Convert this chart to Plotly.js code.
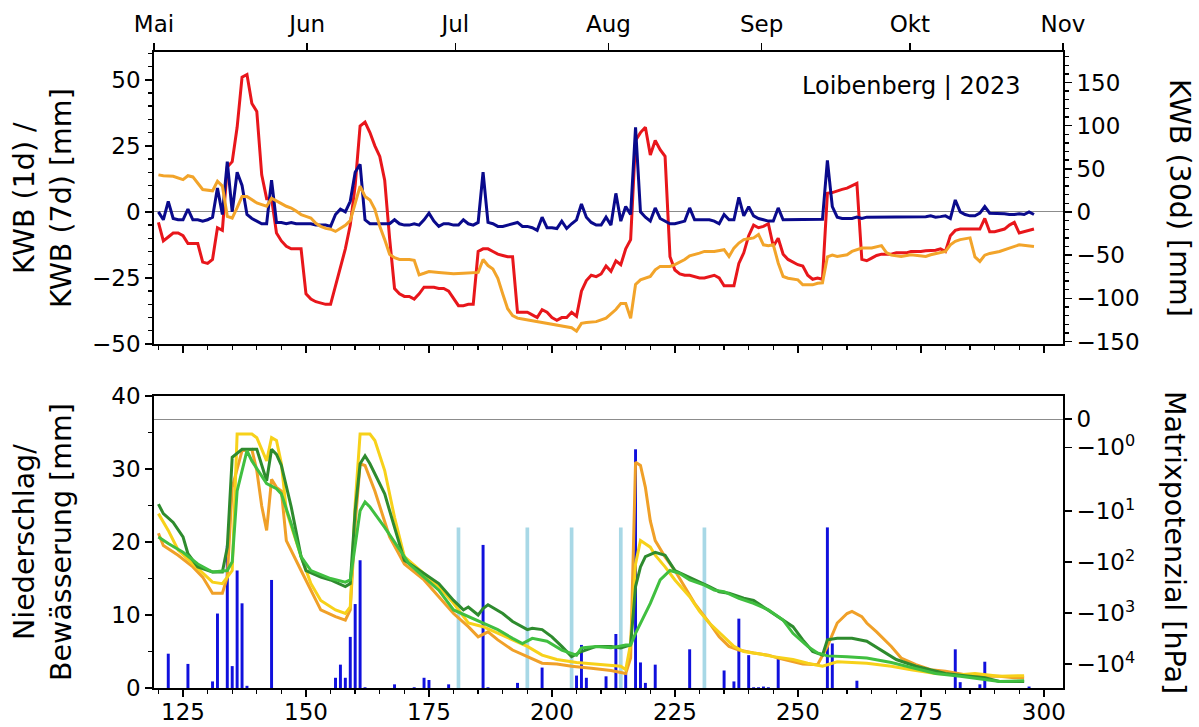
<!DOCTYPE html>
<html><head><meta charset="utf-8">
<script src="https://cdn.plot.ly/plotly-3.0.1.min.js"></script>
<style>html,body{margin:0;padding:0;background:#fff;}#chart{width:1199px;height:727px;}</style>
</head><body><div id="chart"></div>
<script>
// ---------- DATA ----------
const firstDay = 120;
// KWB (1d) daily, days 120..298
const kwb1d = [0,-3,4,-2.5,-3,-3,1,-3,-3,-3.5,-3,-2,9,-1,19,0,15,10,-1,-2.5,
-3.5,-4.5,-4.5,12,-4,-4,-4.5,-4,-4.5,-4.5,-4.5,-4.5,-5,-5,-5,-5.5,-1,1,0,4,
15,18,-3,-4.5,-4.5,-4.5,-4.5,-4.5,-3,-4.5,-5,-5,-4.5,-5,-3,-0.5,-3.5,-5.5,-4.5,-4.5,
-5,-5,-3,-4.5,-5,-4,15,-4,-4.5,-5.5,-5.5,-5,-4.5,-4,-5.5,-5.5,-6,-7,-2,-6,
-6,-6.3,-3.5,-6.3,-4.5,-3,3,-2,-4,-5,-5,-2,-5,7,-3.5,2,-1,32,0,-2,
-3.5,1.5,-2.5,-3.5,-4.5,-4.5,-4,-3.5,1.5,-3,-3,-3,-3,-3.5,-4.5,-1,-3,-3,5.5,-1.5,
2,-1.5,-2.5,-3,-3.5,-3.5,1.5,-3,-3,-3,-3,-3,-2.8,-3,-3,-2.8,19.5,2,-2,-2.5,
-2.5,-2.5,-2,-2.5,-2,-2,-2,-1.8,-2,-1.8,-2,-2,-1.8,-1.8,-1.8,-1.8,-1.8,-1.5,-2,-1.8,
-1.5,-2.5,4.5,0,-1,-1.5,-1.5,-0.5,2,-0.5,-0.5,-0.7,-0.7,-1,-1,-0.7,-1,0,-1];
// KWB (7d) daily, days 120..298
const kwb7d = [-4,-11,-9.5,-8,-8,-9,-12,-12,-12,-19,-19.5,-18,-6,-7,17,19,32,51,52,41,
38,14,5,5,-8,-11,-13,-14,-14,-14,-31,-33,-34,-34.5,-35,-35,-28,-21,-14,-5,
10,32.5,34,30,25,21,12,-10,-29,-31,-32,-32,-33,-31,-28.5,-28.5,-28.5,-29,-29,-30,
-33,-35.5,-35.5,-35,-35,-15,-14,-14,-15,-16,-16.5,-17,-17,-38,-38,-38,-39,-40,-37,-38,
-40,-41,-40,-40,-38,-39.5,-30,-26,-24,-24.5,-23.5,-20.5,-22.5,-18.5,-20,-14,-10.5,27,30,32,
21.5,27,23.5,21,-17,-22,-23.5,-24,-24,-24.5,-25,-25,-24.5,-24,-25,-28,-28,-28,-19.5,-15.5,
-9,-5,-6,-5.5,-4.5,-13,-10,-16,-18,-19,-20,-20.5,-24,-25.5,-25,-25.5,7,7.3,8,8.5,
9,10,10.8,-18,-18.5,-17.5,-16.5,-16,-16,-16,-15.5,-15.5,-15.5,-15,-15,-15,-14.7,-14.7,-14.5,-14,
-15,-9,-7,-6.5,-6.5,-6.5,-6.5,-6.5,-2.5,-7.5,-7.5,-7,-6.5,-5,-4,-8,-7.5,-7,-6.5];
// KWB (30d)
const kwb30Days = [120,121,123,125,126,127,129,130,131,132,133,134,135,136,137,138,139,140,141,142,
143,144,145,146,147,148,149,150,151,152,153,154,155,156,157,158,159,160,161,162,
163,164,165,166,167,168,169,170,171,172,173,174,175,177,180,182,185,186,187,188,
189,190,191,192,193,194,197,199,201,203,204,205,206,207,209,211,212,213,214,215,
216,217,218,220,221,222,224,225,227,228,230,231,233,235,236,237,238,239,240,241,
242,243,244,245,246,247,248,250,251,253,254,255,256,257,258,260,261,263,265,267,
268,269,271,273,276,277,280,281,282,283,285,286,287,288,289,291,293,295,298];
const kwb30 = [43,42,41.4,37.5,42,40.6,26,25,24.5,35.6,30,-5,-7,5,18,18,14,10.5,8.5,6.6,
16,12.4,9.7,6.6,4.6,1,-3,-5,-7,-13,-16.6,-19,-20,-22.5,-18.6,-15.5,-10,10,30,18,
14,3,-16.6,-32,-49,-53,-55,-55,-55,-56,-72.8,-71,-69,-70,-71.6,-71,-70,-55,-62,-66,
-76.7,-95,-112,-120,-123,-124,-127,-129,-131,-133,-134,-138,-129,-128,-127,-123,-118,-113,-106,-106,
-123,-84,-78.6,-74.7,-67,-63,-63,-61,-55,-50.7,-47.6,-45.7,-45.7,-43.7,-51.5,-41.8,-36,-32,-31,-30,
-26,-38,-39,-38,-59,-74.7,-76.7,-78.6,-84.4,-84.4,-82.5,-82,-52,-50,-51.5,-49.6,-45.7,-41.8,-41.8,-39,
-47,-50,-51.5,-49.6,-51.5,-49.6,-45.7,-38,-34,-32,-30,-52,-57.3,-50,-48,-45.7,-41.8,-38,-40];
// Precipitation (Niederschlag) [mm]
const precipDays = [122,126,131,132,134,135,136,137,138,143,156,157,158,159,160,161,162,168,172,174,
175,179,186,187,193,198,205,206,207,211,213,215,217,218,219,221,228,235,237,238,
240,241,242,243,244,246,256,257,262,282,283,287,288,297];
const precip = [4.7,3.3,0.9,10.2,19.5,3.0,16.1,11.6,0.3,14.8,1.4,3.2,1.4,7.0,11.5,17.5,0.1,0.5,0.1,1.4,
1.1,0.5,19.6,0.1,0.7,2.8,1.7,5.9,1.4,1.6,7.4,2.0,32.7,3.5,0.7,3.2,5.3,2.4,0.9,9.5,
4.5,0.1,0.1,0.2,0.1,4.2,22.0,6.1,1.0,5.3,0.8,0.5,3.6,0.2];
// Irrigation (Bewässerung) [mm]
const irrigDays = [181,195,204,214,231];
const irrig = [22,22,22,22,22];
// Matrix potential [hPa]
const mpOrangeDays = [120,121,124,127,129,131,133,134,135,137,139,140,141,142,143,144,145,146,149,151,
153,156,158,159,160,161,162,164,167,170,174,177,180,183,185,187,189,192,195,198,
201,204,208,212,215,216,217,218,219,220,221,223,225,227,229,232,234,236,238,241,
244,246,249,251,254,256,258,260,261,263,264,266,269,271,274,277,280,284,287,291,294,296];
const mpOrange = [-27,-47,-73,-123,-195,-403,-403,-195,-3.4,-1.12,-1.07,-1.82,-7.9,-23.7,-2.36,-3.39,-4.0,-37.5,-145,-352,
-859,-1160,-1360,-859,-17.6,-1.58,-1.64,-4.0,-31.8,-108,-222,-474,-1010,-1830,-2900,-2310,-3320,-5260,-7080,-9510,
-9840,-10900,-12000,-13200,-15100,-7550,-1.53,-1.64,-3.39,-15.4,-37.5,-78.7,-145,-299,-638,-1550,-2900,-4460,-5260,-6000,
-6620,-7550,-8910,-9840,-10200,-4460,-1550,-1010,-916,-1160,-1550,-2310,-4460,-7550,-10200,-12800,-13700,-16100,-17200,-17200,-18400,-18400];
const mpYellowDays = [120,122,124,127,129,131,133,135,136,139,140,142,143,144,145,146,149,151,153,156,
158,159,160,161,163,164,166,168,170,174,177,180,183,186,189,192,195,198,201,205,
208,211,214,215,216,217,218,220,221,223,225,228,230,232,235,237,239,242,245,249,
252,255,256,258,261,264,269,273,278,283,286,288,291,296];
const mpYellow = [-11.1,-23.7,-57.5,-108,-165,-245,-262,-145,-0.53,-0.53,-0.66,-1.48,-0.66,-0.76,-1.58,-9.72,-77.4,-262,-560,-859,
-1010,-753,-7.23,-0.53,-0.53,-0.76,-1.82,-13.1,-77.4,-165,-299,-638,-1550,-1830,-2470,-3320,-4460,-6620,-8070,-9200,
-9840,-10200,-10900,-12800,-3910,-108,-37.5,-50.5,-72.6,-123,-222,-474,-916,-1550,-2900,-4460,-5620,-6200,-7080,-8070,
-9510,-10900,-10200,-8910,-9200,-9510,-10900,-12800,-15100,-16100,-15100,-16100,-17200,-16700];
const mpDarkGreenDays = [120,121,123,125,126,128,131,133,134,135,137,140,142,143,144,145,147,149,150,153,
155,158,159,160,161,162,163,166,168,170,174,177,180,182,183,185,186,187,190,192,
195,196,198,200,202,204,206,209,212,214,216,217,218,219,221,223,225,227,229,232,
234,236,239,241,243,246,249,251,253,255,256,258,261,264,267,270,274,277,280,284,288,291,296];
const mpDarkGreen = [-7.23,-11.1,-16.5,-31.8,-67.9,-123,-155,-155,-50.5,-1.35,-1.07,-1.07,-2.52,-1.07,-1.25,-1.64,-8.24,-77.4,-145,-195,
-222,-299,-262,-9.72,-1.58,-1.30,-1.58,-4.56,-20.7,-91.4,-165,-262,-560,-859,-753,-1080,-804,-682,-1010,-1450,
-2090,-1960,-2090,-2900,-4460,-7080,-5620,-4460,-4460,-4760,-4180,-299,-123,-77.4,-63.6,-72.6,-145,-177,-222,-299,
-377,-403,-507,-560,-753,-1160,-1830,-3320,-5620,-6620,-3320,-3100,-3100,-3540,-5260,-8070,-10900,-12800,-15100,-16700,-18400,-21700,-21700];
const mpGreenDays = [120,122,125,128,131,134,135,136,138,139,142,144,145,147,149,151,155,158,159,161,
162,163,166,169,171,174,177,180,183,186,189,192,194,196,199,202,205,206,209,212,
215,216,217,220,222,224,226,228,231,233,235,238,241,244,247,249,252,254,256,260,
264,269,274,278,283,288,291,296];
const mpGreen = [-31.8,-42.9,-63.6,-108,-155,-145,-97.5,-3.99,-1.12,-1.48,-2.87,-3.61,-4.56,-17.6,-77.4,-145,-208,-245,-222,-9.72,
-6.55,-8.24,-20.7,-57.5,-108,-195,-352,-859,-1160,-1550,-2090,-3100,-3910,-3100,-3540,-5260,-6620,-4760,-4460,-4760,
-4180,-4180,-2470,-638,-222,-145,-165,-222,-280,-352,-377,-507,-638,-859,-1360,-2470,-4460,-6000,-6840,-7080,
-7550,-9200,-12000,-15100,-17200,-20300,-21700,-21000];
// Tick labels
const monthDays = [121,152,182,213,244,274,305];
const monthNames = ['Mai','Jun','Jul','Aug','Sep','Okt','Nov'];
const mpTickVals = [0,-1,-10,-100,-1000,-10000];
const mpTickText = ['0','−10<sup>0</sup>','−10<sup>1</sup>','−10<sup>2</sup>','−10<sup>3</sup>','−10<sup>4</sup>'];

// ---------- symlog scale (linthresh 2, linscale 1, base 10) ----------
const LINTHRESH = 2, LINSCALE_ADJ = 1 / (1 - 1 / 10);
function symlog(v) {
  const a = Math.abs(v), s = v < 0 ? -1 : 1;
  if (a <= LINTHRESH) return v * LINSCALE_ADJ;
  return s * LINTHRESH * (LINSCALE_ADJ + Math.log10(a / LINTHRESH));
}
const days = kwb1d.map((_, i) => firstDay + i);

// ---------- STYLE ----------
const FONT = 'DejaVu Sans, sans-serif';
const TICK = 23, LABEL = 28.5;
const minor = (d) => ({dtick: d, ticklen: 4, tickwidth: 1.4, ticks: 'outside', tickcolor: '#000', showgrid: false});
const ax = {showline: true, linecolor: '#000', linewidth: 1.8, ticks: 'outside', ticklen: 7, tickwidth: 1.6,
  tickcolor: '#000', showgrid: false, zeroline: false, tickfont: {family: FONT, size: TICK, color: '#000'}};
const X_RANGE = [119.1, 303.9];
const LW = 3;

const traces = [
  {x: kwb30Days, y: kwb30, xaxis: 'x2', yaxis: 'y2', type: 'scatter', mode: 'lines', line: {color: '#f2a42a', width: LW}},
  {x: days, y: kwb7d, xaxis: 'x2', yaxis: 'y', type: 'scatter', mode: 'lines', line: {color: '#e8161b', width: LW}},
  {x: days, y: kwb1d, xaxis: 'x2', yaxis: 'y', type: 'scatter', mode: 'lines', line: {color: '#0a0a8c', width: LW}},
  {x: [], y: [], xaxis: 'x3', yaxis: 'y', type: 'scatter', mode: 'lines', hoverinfo: 'skip'},
  {x: precipDays, y: precip, xaxis: 'x', yaxis: 'y3', type: 'bar', width: 0.6, marker: {color: '#1010dd', line: {width: 0}}},
  {x: irrigDays, y: irrig, xaxis: 'x', yaxis: 'y3', type: 'bar', width: 0.75, marker: {color: '#a8d8e6', line: {width: 0}}},
  {x: mpOrangeDays, y: mpOrange.map(symlog), xaxis: 'x', yaxis: 'y4', type: 'scatter', mode: 'lines', line: {color: '#f0a028', width: LW}},
  {x: mpYellowDays, y: mpYellow.map(symlog), xaxis: 'x', yaxis: 'y4', type: 'scatter', mode: 'lines', line: {color: '#f7d11a', width: LW}},
  {x: mpDarkGreenDays, y: mpDarkGreen.map(symlog), xaxis: 'x', yaxis: 'y4', type: 'scatter', mode: 'lines', line: {color: '#2e8b2e', width: LW}},
  {x: mpGreenDays, y: mpGreen.map(symlog), xaxis: 'x', yaxis: 'y4', type: 'scatter', mode: 'lines', line: {color: '#40bf40', width: LW}}
];

const L = 154, R = 136, T = 52, B = 39, W = 1199, H = 727;
const pw = W - L - R, ph = H - T - B;
const px2x = (p) => (p - L) / pw;
const py2y = (p) => (H - B - p) / ph;

const layout = {
  width: W, height: H, showlegend: false, barmode: 'overlay',
  paper_bgcolor: '#fff', plot_bgcolor: '#fff',
  margin: {l: L, r: R, t: T, b: B, pad: 0},
  font: {family: FONT, color: '#000'},
  xaxis: Object.assign({}, ax, {domain: [0, 1], anchor: 'y3', range: X_RANGE, tick0: 0, dtick: 25, minor: minor(5), mirror: true,
    ticklabelstandoff: -4}),
  xaxis2: Object.assign({}, ax, {domain: [0, 1], anchor: 'y', range: X_RANGE, tick0: 0, dtick: 25, minor: minor(5), showticklabels: false}),
  xaxis3: Object.assign({}, ax, {overlaying: 'x2', side: 'top', anchor: 'y', range: [121, 305], tickvals: monthDays, ticktext: monthNames,
    ticklabelstandoff: 2}),
  yaxis: Object.assign({}, ax, {domain: [py2y(344), 1], anchor: 'x2', range: [-50, 60.5], tick0: 0, dtick: 25, minor: minor(5),
    zeroline: true, zerolinecolor: '#8c8c8c', zerolinewidth: 1}),
  yaxis2: Object.assign({}, ax, {overlaying: 'y', side: 'right', anchor: 'x2', range: [-152.9, 185.3], tick0: 0, dtick: 50, minor: minor(10)}),
  yaxis3: Object.assign({}, ax, {domain: [0, py2y(396)], anchor: 'x', range: [0, 40], tick0: 0, dtick: 10, minor: minor(5)}),
  yaxis4: Object.assign({}, ax, {overlaying: 'y3', side: 'right', anchor: 'x', range: [-10.55, 0.902],
    tickvals: mpTickVals.map(symlog), ticktext: mpTickText, zeroline: true, zerolinecolor: '#8c8c8c', zerolinewidth: 1}),
  annotations: [
    {text: 'Loibenberg | 2023', xref: 'paper', yref: 'paper', x: px2x(1023), y: py2y(86), xanchor: 'right', yanchor: 'middle',
      showarrow: false, font: {family: FONT, size: 24, color: '#000'}},
    {text: 'KWB (1d) /<br>KWB (7d) [mm]', xref: 'paper', yref: 'paper', x: px2x(43), y: py2y(198), xanchor: 'center', yanchor: 'middle',
      textangle: -90, showarrow: false, font: {family: FONT, size: LABEL, color: '#000'}},
    {text: 'KWB (30d) [mm]', xref: 'paper', yref: 'paper', x: px2x(1179), y: py2y(198), xanchor: 'center', yanchor: 'middle',
      textangle: 90, showarrow: false, font: {family: FONT, size: LABEL, color: '#000'}},
    {text: 'Niederschlag/<br>Bewässerung [mm]', xref: 'paper', yref: 'paper', x: px2x(43), y: py2y(542), xanchor: 'center', yanchor: 'middle',
      textangle: -90, showarrow: false, font: {family: FONT, size: LABEL, color: '#000'}},
    {text: 'Matrixpotenzial [hPa]', xref: 'paper', yref: 'paper', x: px2x(1175), y: py2y(542), xanchor: 'center', yanchor: 'middle',
      textangle: 90, showarrow: false, font: {family: FONT, size: LABEL, color: '#000'}}
  ]
};

Plotly.newPlot('chart', traces, layout, {staticPlot: true, displayModeBar: false});
</script></body></html>
